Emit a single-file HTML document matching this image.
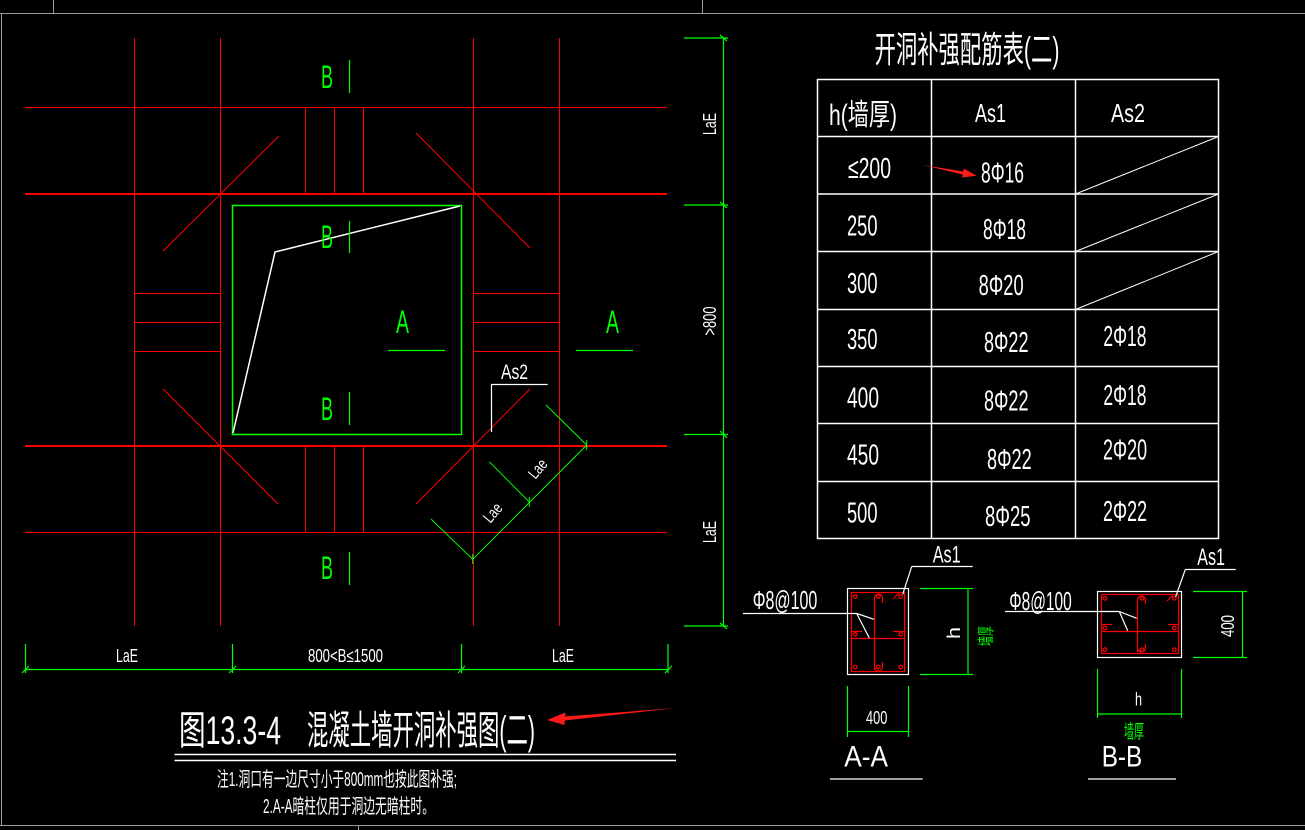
<!DOCTYPE html>
<html><head><meta charset="utf-8"><style>
html,body{margin:0;padding:0;background:#000;}
svg{display:block;}
text{font-family:"Liberation Sans","Noto Sans CJK SC",sans-serif;}
</style></head><body>
<svg width="1305" height="830" viewBox="0 0 1305 830" xmlns="http://www.w3.org/2000/svg">
<rect width="1305" height="830" fill="#000"/>
<!-- frame -->
<g stroke="#9a9a9a" stroke-width="1" shape-rendering="crispEdges">
<line x1="0" y1="13.5" x2="1305" y2="13.5"/>
<line x1="1.5" y1="13" x2="1.5" y2="826"/>
<line x1="53.5" y1="0" x2="53.5" y2="13"/>
<line x1="702.5" y1="0" x2="702.5" y2="13"/>
<line x1="0" y1="825.5" x2="1305" y2="825.5"/>
<line x1="358.5" y1="826" x2="358.5" y2="830"/>
</g>
<!-- red grid -->
<g stroke="#ff0000" stroke-width="1" shape-rendering="crispEdges">
<line x1="25" y1="107.5" x2="667" y2="107.5"/>
<line x1="25" y1="194" x2="667" y2="194" stroke-width="2"/>
<line x1="25" y1="446" x2="667" y2="446" stroke-width="2"/>
<line x1="25" y1="532.5" x2="667" y2="532.5"/>
<line x1="134.5" y1="38" x2="134.5" y2="626"/>
<line x1="220.5" y1="38" x2="220.5" y2="626"/>
<line x1="473.5" y1="38" x2="473.5" y2="626"/>
<line x1="559.5" y1="38" x2="559.5" y2="626"/>
<line x1="305.5" y1="107" x2="305.5" y2="194"/>
<line x1="334.5" y1="107" x2="334.5" y2="194"/>
<line x1="363.5" y1="107" x2="363.5" y2="194"/>
<line x1="305.5" y1="446" x2="305.5" y2="532"/>
<line x1="334.5" y1="446" x2="334.5" y2="532"/>
<line x1="363.5" y1="446" x2="363.5" y2="532"/>
<line x1="134" y1="293.5" x2="220" y2="293.5"/>
<line x1="134" y1="322.5" x2="220" y2="322.5"/>
<line x1="134" y1="351.5" x2="220" y2="351.5"/>
<line x1="473" y1="293.5" x2="559" y2="293.5"/>
<line x1="473" y1="322.5" x2="559" y2="322.5"/>
<line x1="473" y1="351.5" x2="559" y2="351.5"/>
</g>
<g stroke="#ff0000" stroke-width="1">
<line x1="279" y1="136" x2="163" y2="251"/>
<line x1="416" y1="133" x2="530" y2="248"/>
<line x1="163" y1="389" x2="278" y2="504"/>
<line x1="530" y1="389" x2="416" y2="504"/>
</g>
<!-- opening -->
<rect x="232.5" y="205.5" width="229" height="229" fill="none" stroke="#00ff00" stroke-width="1.5"/>
<polyline points="460,206 275,252 233,433" fill="none" stroke="#fff" stroke-width="1.5"/>
<!-- B labels -->
<g fill="#00ff00" font-size="32">
<text x="321" y="88" textLength="12" lengthAdjust="spacingAndGlyphs">B</text>
<text x="321" y="248" textLength="12" lengthAdjust="spacingAndGlyphs">B</text>
<text x="321" y="420" textLength="12" lengthAdjust="spacingAndGlyphs">B</text>
<text x="321" y="579" textLength="12" lengthAdjust="spacingAndGlyphs">B</text>
<text x="396" y="333" textLength="13" lengthAdjust="spacingAndGlyphs">A</text>
<text x="606" y="333" textLength="13" lengthAdjust="spacingAndGlyphs">A</text>
</g>
<g stroke="#00ff00" stroke-width="1.2">
<line x1="349.5" y1="60" x2="349.5" y2="93"/>
<line x1="349.5" y1="221" x2="349.5" y2="253"/>
<line x1="349.5" y1="392" x2="349.5" y2="425"/>
<line x1="349.5" y1="552" x2="349.5" y2="585"/>
<line x1="388" y1="350.5" x2="445" y2="350.5"/>
<line x1="576" y1="350.5" x2="633" y2="350.5"/>
</g>
<!-- As2 -->
<text x="501" y="379" font-size="21" fill="#fff" textLength="27" lengthAdjust="spacingAndGlyphs">As2</text>
<polyline points="547.7,384.5 491.5,384.5 491.5,432" fill="none" stroke="#fff" stroke-width="1.2"/>
<!-- diagonal dim -->
<g stroke="#00ff00" stroke-width="1">
<line x1="472.7" y1="559.3" x2="586.7" y2="445"/>
<line x1="586.7" y1="445" x2="546" y2="405"/>
<line x1="529.3" y1="502" x2="489.3" y2="461.7"/>
<line x1="472.7" y1="559.3" x2="431" y2="519"/>
<line x1="586.7" y1="440" x2="586.7" y2="450"/>
<line x1="529.3" y1="497" x2="529.3" y2="507"/>
<line x1="472.7" y1="554" x2="472.7" y2="564"/>
</g>
<g fill="#fff" font-size="16">
<text x="493" y="518" text-anchor="middle" transform="rotate(-50 493 513)" textLength="20" lengthAdjust="spacingAndGlyphs">Lae</text>
<text x="538" y="474" text-anchor="middle" transform="rotate(-50 538 469)" textLength="20" lengthAdjust="spacingAndGlyphs">Lae</text>
</g>
<!-- bottom dim -->
<g stroke="#00ff00" stroke-width="1.2">
<line x1="25" y1="669.5" x2="668" y2="669.5"/>
<line x1="25.5" y1="644" x2="25.5" y2="673"/>
<line x1="232.5" y1="644" x2="232.5" y2="673"/>
<line x1="461.5" y1="644" x2="461.5" y2="673"/>
<line x1="668" y1="644" x2="668" y2="673"/>
<line x1="22" y1="673" x2="29" y2="666"/>
<line x1="229" y1="673" x2="236" y2="666"/>
<line x1="458" y1="673" x2="465" y2="666"/>
<line x1="665" y1="673" x2="672" y2="666"/>
</g>
<g fill="#fff" font-size="18">
<text x="116" y="662" textLength="22" lengthAdjust="spacingAndGlyphs">LaE</text>
<text x="308" y="662" textLength="75" lengthAdjust="spacingAndGlyphs">800&lt;B≤1500</text>
<text x="552" y="662" textLength="22" lengthAdjust="spacingAndGlyphs">LaE</text>
</g>
<!-- vertical dim -->
<g stroke="#00ff00" stroke-width="1.2">
<line x1="723.5" y1="38" x2="723.5" y2="626"/>
<line x1="684" y1="38" x2="728" y2="38"/>
<line x1="684" y1="205" x2="728" y2="205"/>
<line x1="684" y1="434.5" x2="728" y2="434.5"/>
<line x1="684" y1="626" x2="728" y2="626"/>
<line x1="720" y1="35" x2="727" y2="41"/>
<line x1="720" y1="202" x2="727" y2="208"/>
<line x1="720" y1="431" x2="727" y2="438"/>
<line x1="720" y1="623" x2="727" y2="629"/>
</g>
<g fill="#fff" font-size="18">
<text x="710" y="130" text-anchor="middle" transform="rotate(-90 710 124)" textLength="22" lengthAdjust="spacingAndGlyphs">LaE</text>
<text x="710" y="327" text-anchor="middle" transform="rotate(-90 710 321)" textLength="29" lengthAdjust="spacingAndGlyphs">&gt;800</text>
<text x="710" y="538" text-anchor="middle" transform="rotate(-90 710 532)" textLength="22" lengthAdjust="spacingAndGlyphs">LaE</text>
</g>
<!-- title -->
<g fill="#fff" font-size="40">
<text x="179" y="744" textLength="102" lengthAdjust="spacingAndGlyphs">图13.3-4</text>
<text x="307" y="744" textLength="228" lengthAdjust="spacingAndGlyphs">混凝土墙开洞补强图(二)</text>
</g>
<g stroke="#fff" stroke-width="1.5">
<line x1="174.5" y1="754.5" x2="676" y2="754.5"/>
<line x1="174.5" y1="760.5" x2="676" y2="760.5"/>
</g>
<polygon points="547,720 565.5,712.5 565.2,716.5 676,708 564.8,720.5 564.5,725" fill="#ff1a1a"/>
<g fill="#fff" font-size="20">
<text x="217" y="786" textLength="240" lengthAdjust="spacingAndGlyphs">注1.洞口有一边尺寸小于800mm也按此图补强;</text>
<text x="263" y="813" textLength="171" lengthAdjust="spacingAndGlyphs">2.A-A暗柱仅用于洞边无暗柱时。</text>
</g>
<!-- table -->
<text x="874.5" y="62" font-size="36" fill="#fff" textLength="185" lengthAdjust="spacingAndGlyphs">开洞补强配筋表(二)</text>
<g stroke="#fff" stroke-width="1.5" fill="none">
<rect x="817.5" y="79.5" width="401" height="459"/>
<line x1="931.5" y1="79.5" x2="931.5" y2="538.5"/>
<line x1="1075.5" y1="79.5" x2="1075.5" y2="538.5"/>
<line x1="817.5" y1="136.5" x2="1218.5" y2="136.5"/>
<line x1="817.5" y1="194" x2="1218.5" y2="194"/>
<line x1="817.5" y1="251.5" x2="1218.5" y2="251.5"/>
<line x1="817.5" y1="309.5" x2="1218.5" y2="309.5"/>
<line x1="817.5" y1="366.5" x2="1218.5" y2="366.5"/>
<line x1="817.5" y1="423.5" x2="1218.5" y2="423.5"/>
<line x1="817.5" y1="481.5" x2="1218.5" y2="481.5"/>
</g>
<g stroke="#fff" stroke-width="1">
<line x1="1075.5" y1="194" x2="1218.5" y2="136.5"/>
<line x1="1075.5" y1="251.5" x2="1218.5" y2="194"/>
<line x1="1075.5" y1="309.5" x2="1218.5" y2="251.5"/>
</g>
<g fill="#fff">
<text x="829" y="125" font-size="30" textLength="68" lengthAdjust="spacingAndGlyphs">h(墙厚)</text>
<text x="975" y="122" font-size="26" textLength="31" lengthAdjust="spacingAndGlyphs">As1</text>
<text x="1111" y="122" font-size="26" textLength="34" lengthAdjust="spacingAndGlyphs">As2</text>
</g>
<g fill="#fff" font-size="29">
<text x="848" y="178" textLength="43" lengthAdjust="spacingAndGlyphs">≤200</text>
<text x="981" y="182.7" textLength="43" lengthAdjust="spacingAndGlyphs">8Φ16</text>
<text x="847" y="235.7" textLength="30.5" lengthAdjust="spacingAndGlyphs">250</text>
<text x="983" y="239" textLength="43" lengthAdjust="spacingAndGlyphs">8Φ18</text>
<text x="847" y="293" textLength="30.5" lengthAdjust="spacingAndGlyphs">300</text>
<text x="978.6" y="295" textLength="45" lengthAdjust="spacingAndGlyphs">8Φ20</text>
<text x="847" y="349" textLength="30.5" lengthAdjust="spacingAndGlyphs">350</text>
<text x="984" y="352" textLength="44.5" lengthAdjust="spacingAndGlyphs">8Φ22</text>
<text x="1103.4" y="346" textLength="43" lengthAdjust="spacingAndGlyphs">2Φ18</text>
<text x="847" y="407.3" textLength="32" lengthAdjust="spacingAndGlyphs">400</text>
<text x="984" y="410.7" textLength="44.5" lengthAdjust="spacingAndGlyphs">8Φ22</text>
<text x="1103.4" y="405" textLength="43" lengthAdjust="spacingAndGlyphs">2Φ18</text>
<text x="847" y="464.7" textLength="32" lengthAdjust="spacingAndGlyphs">450</text>
<text x="987" y="469" textLength="44.7" lengthAdjust="spacingAndGlyphs">8Φ22</text>
<text x="1103" y="459.3" textLength="44" lengthAdjust="spacingAndGlyphs">2Φ20</text>
<text x="847" y="522.3" textLength="30.5" lengthAdjust="spacingAndGlyphs">500</text>
<text x="985" y="526" textLength="45.5" lengthAdjust="spacingAndGlyphs">8Φ25</text>
<text x="1103" y="521" textLength="44" lengthAdjust="spacingAndGlyphs">2Φ22</text>
</g>
<polygon points="976.6,175.7 962.1,177.5 962.6,174.5 923,165 963.2,171.5 963.9,168.5" fill="#ff1a1a"/>
<!-- Section A-A -->
<rect x="847.5" y="588.5" width="61" height="86" fill="none" stroke="#fff" stroke-width="1.2"/>
<g stroke="#ff0000" stroke-width="1.2" fill="none">
<rect x="851.5" y="592.5" width="53" height="79"/>
<path d="M874.5,670 V598 A4,4 0 0 1 882.5,598 V603"/>
<path d="M882.5,662 V667 A4,4 0 0 1 874.5,667"/>
<line x1="851" y1="638.5" x2="905" y2="638.5"/>
<line x1="851" y1="631.5" x2="862" y2="631.5"/>
<line x1="893" y1="631.5" x2="905" y2="631.5"/>
<line x1="893" y1="599" x2="899" y2="593"/>
<circle cx="855.3" cy="596.5" r="1.8"/>
<circle cx="878.3" cy="596.5" r="1.8"/>
<circle cx="900.7" cy="596.5" r="1.8"/>
<circle cx="855.3" cy="634.3" r="1.8"/>
<circle cx="900.7" cy="634.3" r="1.8"/>
<circle cx="855.3" cy="667" r="1.8"/>
<circle cx="878.3" cy="667" r="1.8"/>
<circle cx="900.7" cy="667" r="1.8"/>
</g>
<g stroke="#fff" stroke-width="1.2">
<line x1="743" y1="613.5" x2="856.7" y2="613.5"/>
<line x1="856.7" y1="613.5" x2="874" y2="619.3"/>
<line x1="856.7" y1="613.5" x2="869.3" y2="638"/>
<line x1="911.7" y1="566.5" x2="972.7" y2="566.5"/>
<line x1="911.7" y1="566.5" x2="902.7" y2="594.3"/>
<line x1="830" y1="779" x2="922.7" y2="779"/>
</g>
<g stroke="#00ff00" stroke-width="1.2">
<line x1="968" y1="588.5" x2="968" y2="674.5"/>
<line x1="920" y1="588.5" x2="973" y2="588.5"/>
<line x1="920" y1="674.5" x2="973" y2="674.5"/>
<line x1="847.5" y1="686" x2="847.5" y2="737"/>
<line x1="908.5" y1="686" x2="908.5" y2="737"/>
<line x1="847.5" y1="731.5" x2="908.5" y2="731.5"/>
</g>
<g fill="#fff">
<text x="752.7" y="609" font-size="26" textLength="64.6" lengthAdjust="spacingAndGlyphs">Φ8@100</text>
<text x="932.7" y="562.3" font-size="24" textLength="28" lengthAdjust="spacingAndGlyphs">As1</text>
<text x="954" y="639" font-size="18" text-anchor="middle" transform="rotate(-90 954 633)" textLength="12" lengthAdjust="spacingAndGlyphs">h</text>
<text x="866" y="724" font-size="18" textLength="21.3" lengthAdjust="spacingAndGlyphs">400</text>
<text x="844.3" y="766.7" font-size="30" textLength="43.7" lengthAdjust="spacingAndGlyphs">A-A</text>
</g>
<text x="985" y="643" font-size="17" fill="#00ff00" text-anchor="middle" transform="rotate(-90 985 636)" textLength="20" lengthAdjust="spacingAndGlyphs">墙厚</text>
<!-- Section B-B -->
<rect x="1097.5" y="591.5" width="84" height="66" fill="none" stroke="#fff" stroke-width="1.2"/>
<g stroke="#ff0000" stroke-width="1.2" fill="none">
<rect x="1101.5" y="594.5" width="77" height="59"/>
<path d="M1137.5,652 V600 A4,4 0 0 1 1145.5,600 V604"/>
<path d="M1145.5,644 V648 A4,4 0 0 1 1137.5,648"/>
<line x1="1101" y1="631.5" x2="1179" y2="631.5"/>
<line x1="1101" y1="624.5" x2="1112" y2="624.5"/>
<line x1="1168" y1="624.5" x2="1179" y2="624.5"/>
<line x1="1167" y1="601" x2="1173" y2="595"/>
<circle cx="1105" cy="598.3" r="1.8"/>
<circle cx="1142" cy="598.3" r="1.8"/>
<circle cx="1174.3" cy="598.3" r="1.8"/>
<circle cx="1105" cy="628" r="1.8"/>
<circle cx="1174.3" cy="628" r="1.8"/>
<circle cx="1105" cy="649.7" r="1.8"/>
<circle cx="1142" cy="649.7" r="1.8"/>
<circle cx="1174.3" cy="649.7" r="1.8"/>
</g>
<g stroke="#fff" stroke-width="1.2">
<line x1="1005" y1="611.5" x2="1119.3" y2="611.5"/>
<line x1="1119.3" y1="611.5" x2="1136.7" y2="618.3"/>
<line x1="1119.3" y1="611.5" x2="1127.7" y2="630.7"/>
<line x1="1185.3" y1="569.5" x2="1235.7" y2="569.5"/>
<line x1="1185.3" y1="569.5" x2="1175.7" y2="596.7"/>
<line x1="1088" y1="779" x2="1176" y2="779"/>
</g>
<g stroke="#00ff00" stroke-width="1.2">
<line x1="1242.5" y1="591.5" x2="1242.5" y2="657.5"/>
<line x1="1193" y1="591.5" x2="1247" y2="591.5"/>
<line x1="1193" y1="657.5" x2="1247" y2="657.5"/>
<line x1="1097.5" y1="669" x2="1097.5" y2="718"/>
<line x1="1181.5" y1="669" x2="1181.5" y2="718"/>
<line x1="1097.5" y1="714" x2="1181.5" y2="714"/>
</g>
<g fill="#fff">
<text x="1009.3" y="610" font-size="26" textLength="62.4" lengthAdjust="spacingAndGlyphs">Φ8@100</text>
<text x="1197.3" y="565" font-size="24" textLength="27.7" lengthAdjust="spacingAndGlyphs">As1</text>
<text x="1227.7" y="632.5" font-size="18" text-anchor="middle" transform="rotate(-90 1227.7 626)" textLength="22" lengthAdjust="spacingAndGlyphs">400</text>
<text x="1135" y="705.7" font-size="18" textLength="7" lengthAdjust="spacingAndGlyphs">h</text>
<text x="1101.7" y="766.7" font-size="30" textLength="40.6" lengthAdjust="spacingAndGlyphs">B-B</text>
</g>
<text x="1124" y="738" font-size="19" fill="#00ff00" textLength="20" lengthAdjust="spacingAndGlyphs">墙厚</text>
</svg>
</body></html>
